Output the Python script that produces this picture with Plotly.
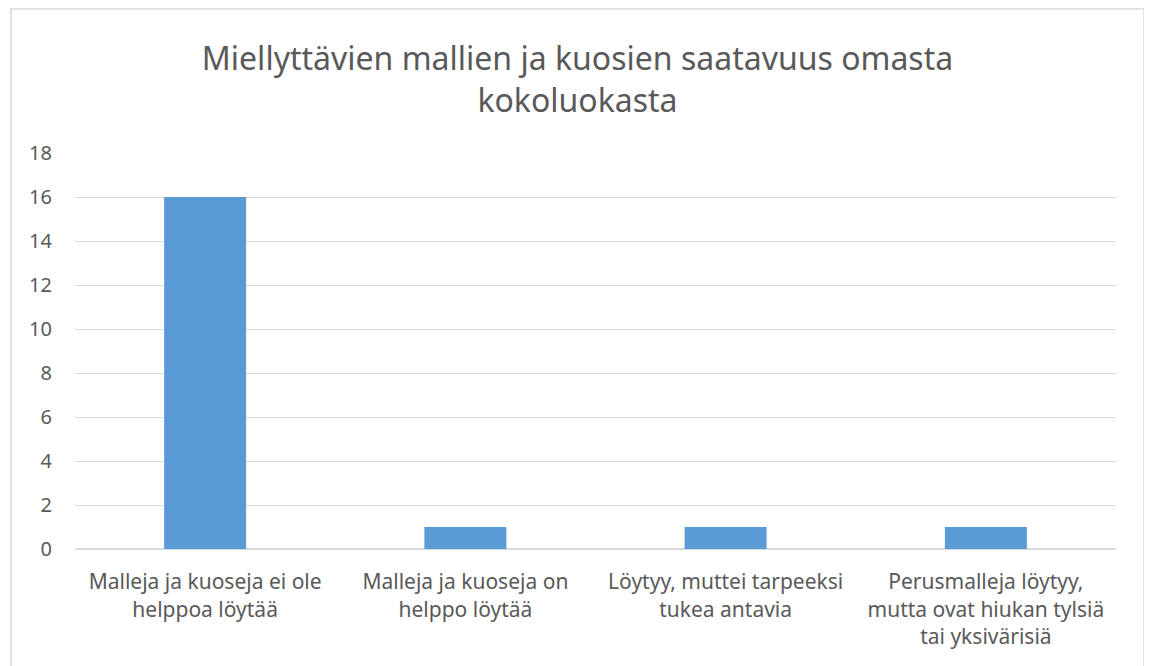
import plotly.graph_objects as go

categories = [
    "Malleja ja kuoseja ei ole helppoa löytää",
    "Malleja ja kuoseja on helppo löytää",
    "Löytyy, muttei tarpeeksi tukea antavia",
    "Perusmalleja löytyy, mutta ovat hiukan tylsiä tai yksivärisiä",
]
tick_labels = [
    "Malleja ja kuoseja ei ole<br>helppoa löytää",
    "Malleja ja kuoseja on<br>helppo löytää",
    "Löytyy, muttei tarpeeksi<br>tukea antavia",
    "Perusmalleja löytyy,<br>mutta ovat hiukan tylsiä<br>tai yksivärisiä",
]
values = [16, 1, 1, 1]
y_ticks = [0, 2, 4, 6, 8, 10, 12, 14, 16, 18]
title_text = "Miellyttävien mallien ja kuosien saatavuus omasta<br>kokoluokasta"

FONT = "Noto Sans"
GREY = "#595959"

OFF = 8  # page body margin
W, H = 1152, 666
L, T = 75 - OFF, 153 - OFF
R = W - (1116 - OFF)
B = H - (549 - OFF)
pw, ph = W - L - R, H - T - B

fig = go.Figure(
    go.Bar(
        x=categories,
        y=values,
        marker=dict(color="#5B9BD5", line=dict(width=0)),
        width=0.315,
    )
)

fig.update_layout(
    width=W,
    height=H,
    margin=dict(l=L, r=R, t=T, b=B),
    paper_bgcolor="white",
    plot_bgcolor="white",
    showlegend=False,
    title=dict(
        text=title_text,
        x=(577.5 - OFF) / W,
        xanchor="center",
        y=1 - (70 - OFF) / H,
        yanchor="middle",
        font=dict(family=FONT, size=32, color=GREY),
    ),
    font=dict(family=FONT, color=GREY),
)

fig.update_xaxes(
    tickmode="array",
    tickvals=categories,
    ticktext=tick_labels,
    tickfont=dict(family=FONT, size=21, color=GREY),
    showgrid=False,
    showline=True,
    linecolor="#D9D9D9",
    linewidth=1,
    ticks="",
    ticklabelstandoff=14,
)

fig.update_yaxes(
    range=[0, 18],
    tickmode="array",
    tickvals=y_ticks,
    tickfont=dict(family=FONT, size=20, color=GREY),
    showgrid=True,
    gridcolor="#D9D9D9",
    gridwidth=1,
    zeroline=True,
    zerolinecolor="#D9D9D9",
    ticks="",
    ticklabelstandoff=22,
)

# chart border
fig.add_shape(
    type="rect",
    xref="paper",
    yref="paper",
    x0=(11 - OFF - L) / pw,
    x1=(1144 - OFF - L) / pw,
    y0=(H - B - 700) / ph,
    y1=(H - B - (8 - OFF) - 1) / ph,
    line=dict(color="#D9D9D9", width=1.5),
    fillcolor="rgba(0,0,0,0)",
    layer="below",
)

fig.write_html("out.html")
